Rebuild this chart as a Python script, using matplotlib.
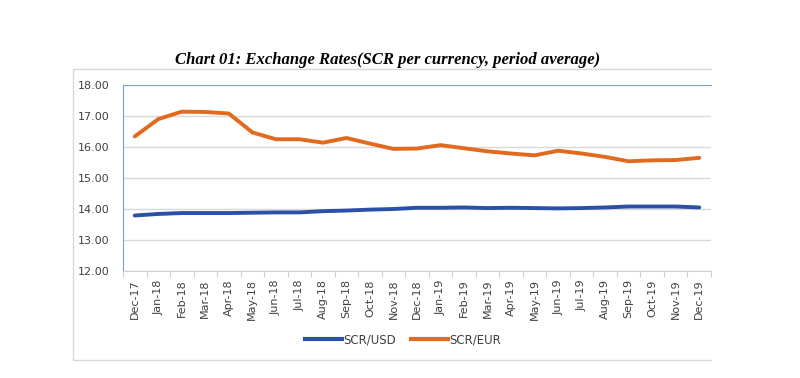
import numpy as np
import matplotlib.pyplot as plt
from matplotlib.lines import Line2D

# Chart 01 data: exchange rates, SCR per currency (period average)
months = ["Dec-17", "Jan-18", "Feb-18", "Mar-18", "Apr-18", "May-18", "Jun-18",
          "Jul-18", "Aug-18", "Sep-18", "Oct-18", "Nov-18", "Dec-18", "Jan-19",
          "Feb-19", "Mar-19", "Apr-19", "May-19", "Jun-19", "Jul-19", "Aug-19",
          "Sep-19", "Oct-19", "Nov-19", "Dec-19"]
scr_usd = [13.79, 13.84, 13.87, 13.87, 13.87, 13.88, 13.89, 13.89, 13.93, 13.95,
           13.98, 14.00, 14.04, 14.04, 14.05, 14.03, 14.04, 14.03, 14.02, 14.03,
           14.05, 14.08, 14.08, 14.08, 14.05]
scr_eur = [16.34, 16.90, 17.14, 17.13, 17.08, 16.47, 16.25, 16.25, 16.14, 16.29,
           16.11, 15.94, 15.95, 16.06, 15.96, 15.86, 15.79, 15.73, 15.88, 15.79,
           15.68, 15.54, 15.57, 15.58, 15.65]
yticks = [12, 13, 14, 15, 16, 17, 18]

blue = "#2a50a8"
orange = "#e26a1e"

W, H = 800, 378
fig = plt.figure(figsize=(8, 3.78), dpi=100)

# outer chart frame (light grey, open on the right like the source)
frame_x = [711 / W, 73 / W, 73 / W, 711 / W]
frame_y = [1 - 69 / H, 1 - 69 / H, 1 - 360 / H, 1 - 360 / H]
fig.add_artist(Line2D(frame_x, frame_y, transform=fig.transFigure,
                      color="#d9d9d9", linewidth=1))

ax = fig.add_axes([123 / W, 1 - 271 / H, (711 - 123) / W, (271 - 85) / H])

x = np.arange(len(months)) + 0.5
ax.plot(x, scr_usd, color=blue, linewidth=2.8, solid_capstyle="round")
ax.plot(x, scr_eur, color=orange, linewidth=2.8, solid_capstyle="round")

ax.set_xlim(0, len(months))
ax.set_ylim(12, 18)
ax.set_yticks(yticks)
ax.set_yticklabels([f"{v:.2f}" for v in yticks], fontsize=8, color="#404040")
ax.yaxis.grid(True, color="#d9d9d9", linewidth=1)
ax.set_axisbelow(True)
ax.tick_params(axis="y", length=0, pad=10)

# category ticks between months, labels at centres
ax.set_xticks(np.arange(len(months) + 1), minor=False)
ax.set_xticklabels([])
ax.set_xticks(x, minor=True)
ax.set_xticklabels(months, minor=True, rotation=90, fontsize=8, color="#404040")
ax.tick_params(axis="x", which="major", length=4, color="#d0d0d0")
ax.tick_params(axis="x", which="minor", length=0, pad=6)

ax.spines["left"].set_color("#7f9fc4")
ax.spines["top"].set_color("#7f9fc4")
ax.spines["bottom"].set_color("#d0d0d0")
ax.spines["right"].set_visible(False)

fig.text(388 / W, 1 - 60 / H, "Chart 01: Exchange Rates(SCR per currency, period average)",
         ha="center", va="center", fontsize=12, fontweight="bold", fontstyle="italic",
         family="Liberation Serif")

handles = [Line2D([], [], color=blue, linewidth=3), Line2D([], [], color=orange, linewidth=3)]
fig.legend(handles, ["SCR/USD", "SCR/EUR"], loc="center", bbox_to_anchor=(403 / W, 1 - 340 / H),
           ncol=2, frameon=False, fontsize=8.5, handlelength=3.2, handletextpad=0.1,
           columnspacing=1.2, labelcolor="#404040")

plt.savefig("out.png", dpi=100)
